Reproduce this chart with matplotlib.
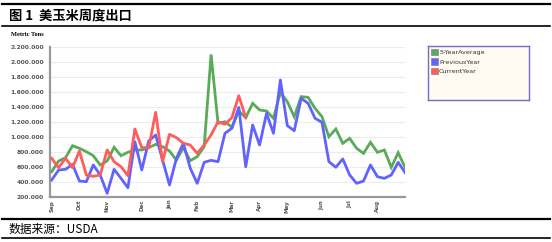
import matplotlib
matplotlib.use("Agg")
import matplotlib.pyplot as plt
from matplotlib.patches import Patch
from matplotlib.lines import Line2D

# ---- data (metric tons, weekly, Sep .. Aug) ----
five_year_avg = [538e3, 680e3, 724e3, 884e3, 849e3, 804e3, 751e3, 627e3, 680e3, 862e3,
                 751e3, 796e3, 827e3, 827e3, 858e3, 902e3, 871e3, 813e3, 693e3, 858e3,
                 684e3, 738e3, 871e3, 2100e3, 1182e3, 1204e3, 1130e3, 1347e3, 1258e3, 1449e3,
                 1360e3, 1347e3, 1249e3, 1595e3, 1471e3, 1271e3, 1538e3, 1529e3, 1382e3, 1271e3,
                 1004e3, 1107e3, 916e3, 982e3, 849e3, 782e3, 929e3, 796e3, 827e3, 596e3,
                 791e3, 591e3]
previous_year = [427e3, 560e3, 569e3, 636e3, 413e3, 404e3, 627e3, 493e3, 249e3, 569e3,
                 449e3, 324e3, 938e3, 560e3, 947e3, 1027e3, 693e3, 360e3, 716e3, 916e3,
                 582e3, 382e3, 662e3, 689e3, 671e3, 1049e3, 1116e3, 1395e3, 604e3, 1160e3,
                 893e3, 1316e3, 1049e3, 1760e3, 1151e3, 1084e3, 1515e3, 1449e3, 1249e3, 1196e3,
                 671e3, 596e3, 707e3, 493e3, 382e3, 413e3, 627e3, 471e3, 449e3, 493e3,
                 662e3, 524e3]
current_year = [716e3, 591e3, 716e3, 591e3, 813e3, 493e3, 476e3, 493e3, 827e3, 671e3,
                604e3, 484e3, 1107e3, 858e3, 858e3, 1329e3, 671e3, 1036e3, 991e3, 916e3,
                893e3, 782e3, 893e3, 1027e3, 1204e3, 1169e3, 1258e3, 1551e3, 1258e3]

month_labels = ["Sep", "Oct", "Nov", "Dec", "Jan", "Feb", "Mar", "Apr", "May", "Jun", "Jul", "Aug"]
month_week_index = [0, 4, 8, 13, 17, 21, 26, 30, 34, 39, 43, 47]
y_ticks = [200e3, 400e3, 600e3, 800e3, 1000e3, 1200e3, 1400e3, 1600e3, 1800e3, 2000e3, 2200e3]

series_names = ["5-YearAverage", "PreviousYear", "CurrentYear"]
series_colors = ["#5aaa5a", "#6262ff", "#ff5c5c"]

plt.rcParams['font.family'] = ['DejaVu Sans']

fig = plt.figure(figsize=(5.52, 2.42), dpi=100)
W, H = 552, 242

def fx(px):
    return px / W

def fy(py):
    return 1 - py / H

# header / footer rules
for ypx, lw in [(4, 1.6), (26, 1.2), (219, 1.6), (238, 1.2)]:
    fig.add_artist(Line2D([fx(2), fx(550)], [fy(ypx), fy(ypx)], color="black", lw=lw,
                          transform=fig.transFigure))

fig.text(fx(9), fy(15), "图 1  美玉米周度出口", family=["Noto Sans CJK SC", "DejaVu Sans"],
         fontweight="bold", fontsize=9.5, va="center", ha="left")
fig.text(fx(9), fy(229), "数据来源：USDA", family=["Noto Sans CJK SC", "DejaVu Sans"],
         fontsize=8.5, va="center", ha="left")
fig.text(fx(11), fy(34), "Metric Tons", family=["Liberation Serif"], fontweight="bold",
         fontsize=4.6, va="center", ha="left")

ax = fig.add_axes([fx(49.5), fy(197), fx(405) - fx(49.5), fy(47) - fy(197)])
x_all = list(range(len(five_year_avg)))
ax.plot(x_all, five_year_avg, color=series_colors[0], lw=2.0, solid_joinstyle="miter", zorder=3)
ax.plot(range(len(previous_year)), previous_year, color=series_colors[1], lw=2.0, zorder=4)
ax.plot(range(len(current_year)), current_year, color=series_colors[2], lw=2.0, zorder=5)

step = 6.93
ax.set_xlim(-(51.7 - 49.5) / step, (405 - 51.7) / step)
ax.set_ylim(200e3, 2200e3)
ax.set_yticks(y_ticks)
ax.set_yticklabels([f"{int(v):,}".replace(",", ".") for v in y_ticks],
                   fontsize=4.3, fontweight="bold", color="#555555")
ax.set_xticks(month_week_index)
ax.set_xticklabels(month_labels, rotation=90, fontsize=4.0, fontweight="bold", color="#555555",
                   va="top")
ax.tick_params(axis="both", length=0, pad=2)
ax.tick_params(axis="y", pad=4)
ax.grid(axis="y", color="#ececec", lw=0.8)
ax.set_axisbelow(True)
for s in ["top", "right"]:
    ax.spines[s].set_visible(False)
ax.spines["left"].set_color("#999999")
ax.spines["left"].set_linewidth(1.6)
ax.spines["bottom"].set_color("#999999")
ax.spines["bottom"].set_linewidth(1.6)

# legend box
lax = fig.add_axes([fx(428), fy(100), fx(529) - fx(428), fy(45.7) - fy(100)])
lax.set_facecolor("#fffaf2")
lax.set_xticks([])
lax.set_yticks([])
for s in lax.spines.values():
    s.set_color("#6e6ec8")
    s.set_linewidth(1.0)
handles = [Patch(facecolor=c, edgecolor="#777777", linewidth=0.4, label=n)
           for c, n in zip(series_colors, series_names)]
lax.legend(handles=handles, loc="upper left", bbox_to_anchor=(-0.02, 1.04), frameon=False,
           fontsize=4.6, handlelength=1.1, handleheight=1.1, handletextpad=0.15,
           labelspacing=0.55, borderpad=0.3, labelcolor="#333333")

fig.savefig("out.png", dpi=100)
